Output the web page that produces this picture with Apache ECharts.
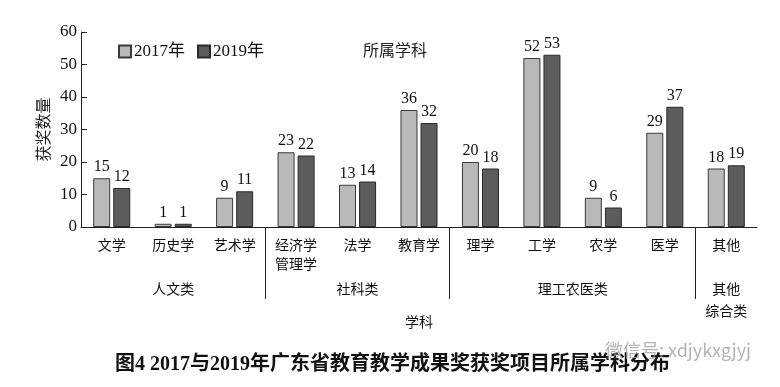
<!DOCTYPE html>
<html>
<head>
<meta charset="utf-8">
<script src="https://cdn.jsdelivr.net/npm/echarts@6/dist/echarts.min.js"></script>
<style>
  html, body { margin: 0; padding: 0; background: #fff; }
  #chart { width: 780px; height: 387px; }
</style>
</head>
<body>
<div id="chart"></div>
<script>
// ---- data ----
var categories = ['文学', '历史学', '艺术学', '经济学\n管理学', '法学', '教育学', '理学', '工学', '农学', '医学', '其他'];
var values2017 = [15, 1, 9, 23, 13, 36, 20, 52, 9, 29, 18];
var values2019 = [12, 1, 11, 22, 14, 32, 18, 53, 6, 37, 19];
var seriesNames = ['2017年', '2019年'];
var groupNames = ['人文类', '社科类', '理工农医类', '其他\n综合类'];
var groupCenters = [1.5, 4.5, 8, 10.5];     // in category units
var groupBoundaries = [3, 6, 10];           // category index where a new group starts
var yTicks = [0, 10, 20, 30, 40, 50, 60];
var yAxisName = '获奖数量';
var xAxisName = '学科';
var panelLabel = '所属学科';
var caption = '图4 2017与2019年广东省教育教学成果奖获奖项目所属学科分布';
var watermark = '微信号: xdjykxgjyj';

var SERIF = '"Liberation Serif", "Noto Sans CJK SC", serif';
var CJK = '"Liberation Serif", "Noto Sans CJK SC", sans-serif';

var chart = echarts.init(document.getElementById('chart'), null, { renderer: 'canvas' });

var option = {
  animation: false,
  backgroundColor: '#ffffff',
  title: [
    { text: panelLabel, left: 358, top: 39, textStyle: { fontSize: 16, fontWeight: 'normal', color: '#222', fontFamily: CJK } },
    { text: caption, left: 110, top: 350, textStyle: { fontSize: 20, fontWeight: 'bold', color: '#111', fontFamily: '"Liberation Serif", "Noto Sans CJK SC", serif' } },
    { text: watermark, left: 600, top: 336, textStyle: { fontSize: 18, fontWeight: 'normal', color: 'rgba(160,160,160,0.8)', fontFamily: '"Noto Sans CJK SC", "Noto Sans", sans-serif' } }
  ],
  legend: {
    left: 113, top: 38,
    itemWidth: 12, itemHeight: 12, itemGap: 12,
    icon: 'rect',
    textStyle: { fontSize: 17, color: '#111', fontFamily: SERIF, padding: [0, 0, 0, -2] },
    data: seriesNames
  },
  grid: { left: 81, right: 23, top: 32, bottom: 160, containLabel: false, outerBoundsMode: 'none' },
  xAxis: [
    {
      type: 'category',
      data: categories,
      position: 'bottom',
      axisLine: { lineStyle: { color: '#222', width: 1 } },
      axisTick: { show: false },
      axisLabel: { interval: 0, fontSize: 14, lineHeight: 19, margin: 10, color: '#111', fontFamily: CJK },
      splitLine: { show: false }
    },
    {
      type: 'value',
      position: 'bottom',
      min: 0, max: categories.length,
      axisLine: { show: false },
      axisTick: {
        show: true, inside: false, length: 72,
        customValues: groupBoundaries,
        lineStyle: { color: '#222', width: 1 }
      },
      splitLine: { show: false },
      axisLabel: {
        margin: 52, fontSize: 14, lineHeight: 22, color: '#111', fontFamily: CJK,
        customValues: groupCenters,
        hideOverlap: false,
        formatter: function (v) {
          for (var i = 0; i < groupCenters.length; i++) {
            if (Math.abs(groupCenters[i] - v) < 1e-6) return groupNames[i];
          }
          return '';
        }
      },
      name: xAxisName,
      nameLocation: 'middle',
      nameGap: 89,
      nameMoveOverlap: false,
      nameTextStyle: { fontSize: 14, color: '#111', fontFamily: CJK }
    }
  ],
  yAxis: {
    type: 'value',
    min: yTicks[0], max: yTicks[yTicks.length - 1], interval: 10,
    axisLine: { show: true, lineStyle: { color: '#222', width: 1 } },
    axisTick: { show: true, inside: true, length: 6, lineStyle: { color: '#222' } },
    axisLabel: { fontSize: 17, margin: 4, color: '#111', fontFamily: SERIF },
    splitLine: { show: false },
    name: yAxisName,
    nameLocation: 'middle',
    nameGap: 28,
    nameMoveOverlap: false,
    nameTextStyle: { fontSize: 16, color: '#222', fontFamily: CJK }
  },
  series: [
    {
      name: seriesNames[0], type: 'bar', xAxisIndex: 0,
      data: values2017, barWidth: 17, barGap: '18%',
      itemStyle: { color: '#b9b9b9', borderColor: '#3a3a3a', borderWidth: 1 },
      label: { show: true, position: 'top', distance: 3, fontSize: 16, color: '#111', fontFamily: SERIF }
    },
    {
      name: seriesNames[1], type: 'bar', xAxisIndex: 0,
      data: values2019, barWidth: 17, barGap: '18%',
      itemStyle: { color: '#5c5c5c', borderColor: '#2a2a2a', borderWidth: 1 },
      label: { show: true, position: 'top', distance: 3, fontSize: 16, color: '#111', fontFamily: SERIF }
    }
  ]
};
chart.setOption(option);
</script>
</body>
</html>
